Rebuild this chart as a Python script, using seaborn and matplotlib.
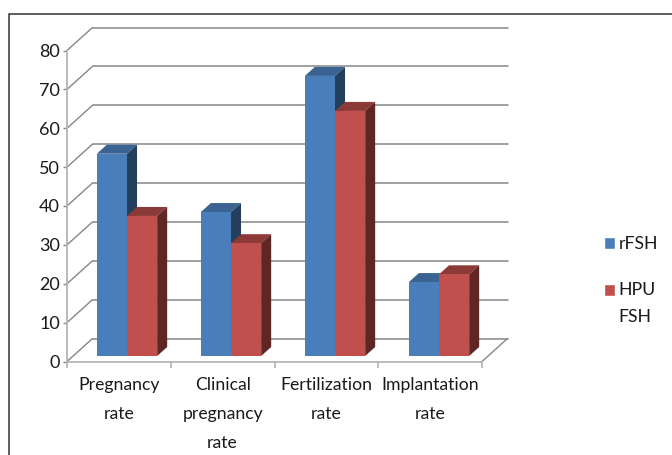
import pandas as pd
import matplotlib.pyplot as plt
import seaborn as sns
from matplotlib.lines import Line2D
from matplotlib.patches import Polygon

# values
categories = ["Pregnancy\nrate", "Clinical\npregnancy\nrate", "Fertilization\nrate", "Implantation\nrate"]
rfsh = [52, 37, 72, 19]
hpu_fsh = [36, 29, 63, 21]
series_names = ["rFSH", "HPU\nFSH"]
y_ticks = [0, 10, 20, 30, 40, 50, 60, 70, 80]

W, H = 672, 455
BLUE, BLUE_TOP, BLUE_SIDE = "#4A7EBB", "#3A6391", "#243F5E"
RED, RED_TOP, RED_SIDE = "#C0504D", "#8C3A38", "#5F2623"
GRID = "#868686"
AXIS = "#b4b4b4"
FONT = ["Lato", "DejaVu Sans"]

sns.set_theme(style="white")
plt.rcParams["font.family"] = FONT

df = pd.DataFrame({
    "category": categories * 2,
    "series": [series_names[0]] * 4 + [series_names[1]] * 4,
    "value": rfsh + hpu_fsh,
})


def px_axes(fig, left, right, bottom, top):
    # axes rectangle given in pixels from the top left corner
    return fig.add_axes([left / W, 1 - bottom / H, (right - left) / W, (bottom - top) / H])


fig = plt.figure(figsize=(W / 100, H / 100), dpi=100)

# picture frame, runs off the right and bottom edge
fig.add_artist(Line2D([8.5 / W, 8.5 / W, 1], [0, 1 - 13.5 / H, 1 - 13.5 / H], color="#333333", lw=1.1))

# front plane of the 3d box: ticks and labels
ax = px_axes(fig, 67, 482, 361.5, 50.5)
ax.set_xlim(-0.5, 3.5)
ax.set_ylim(0, 80)
ax.patch.set_alpha(0)
for s in ["top", "right"]:
    ax.spines[s].set_visible(False)
for s in ["left", "bottom"]:
    ax.spines[s].set_color(AXIS)
    ax.spines[s].set_linewidth(1.3)

# depth of the box and of the bars, pixels turned into data units
px_x = 4 / 415
px_y = 80 / 311
box_dx, box_dy = 25.5 * px_x, 23 * px_y
bar_dx, bar_dy = 10 * px_x, 9 * px_y

for v in y_ticks:
    ax.plot([-0.5, -0.5 + box_dx], [v, v + box_dy], color=GRID, lw=1, clip_on=False, zorder=1)
    ax.plot([-0.5 + box_dx, 3.5 + box_dx], [v + box_dy, v + box_dy], color=GRID, lw=1.1, clip_on=False, zorder=1)
ax.plot([3.5, 3.5 + box_dx], [0, box_dy], color=GRID, lw=1, clip_on=False, zorder=1)

ax.set_xticks(range(4))
ax.set_xticklabels(categories, fontsize=12.7, linespacing=1.98, color="#1a1a1a")
ax.set_xticks([-0.5, 0.5, 1.5, 2.5, 3.5], minor=True)
ax.tick_params(axis="x", which="major", length=0, pad=11.5)
ax.tick_params(axis="x", which="minor", length=4, color=AXIS, width=1.2, bottom=True)
ax.set_yticks(y_ticks)
ax.tick_params(axis="y", labelsize=13, length=3, color=GRID, width=1, left=True, pad=2, labelcolor="#1a1a1a")
ax.set_xlabel("")
ax.set_ylabel("")

# plane the bars stand on, set a little into the box
bar_ax = px_axes(fig, 75, 491, 356, 44.8)
bar_ax.patch.set_alpha(0)
sns.barplot(data=df, x="category", y="value", hue="series", order=categories,
            hue_order=series_names, palette=[BLUE, RED], width=0.58, gap=0,
            saturation=1, dodge=True, ax=bar_ax, errorbar=None)
bar_ax.set_xlim(-0.5, 3.5)
bar_ax.set_ylim(0, 80)

styles = [(BLUE_TOP, BLUE_SIDE, 2), (RED_TOP, RED_SIDE, 4)]
for container, (top_col, side_col, z) in zip(bar_ax.containers, styles):
    for bar in container:
        x0, x1 = bar.get_x(), bar.get_x() + bar.get_width()
        y1 = bar.get_height()
        bar.set_zorder(z + 1)
        bar.set_linewidth(0)
        bar_ax.add_patch(Polygon([(x0, y1), (x1, y1), (x1 + bar_dx, y1 + bar_dy), (x0 + bar_dx, y1 + bar_dy)],
                                 facecolor=top_col, edgecolor="none", zorder=z, clip_on=False))
        bar_ax.add_patch(Polygon([(x1, 0), (x1 + bar_dx, bar_dy), (x1 + bar_dx, y1 + bar_dy), (x1, y1)],
                                 facecolor=side_col, edgecolor="none", zorder=z, clip_on=False))

handles, labels = bar_ax.get_legend_handles_labels()
leg = bar_ax.legend(handles, labels, loc="upper left", bbox_to_anchor=(604 / W, 1 - 236 / H),
                    bbox_transform=fig.transFigure, frameon=False, fontsize=12.7, handlelength=0.62,
                    handleheight=0.72, handletextpad=0.2, labelspacing=1.7, borderpad=0, borderaxespad=0,
                    labelcolor="#1a1a1a")
for text in leg.get_texts():
    text.set_linespacing(1.85)
# second swatch sits beside the first line of its label
swatch = leg.legend_handles[1]
swatch.set_y(swatch.get_y() + 10)
bar_ax.set_axis_off()

fig.savefig("out.png", dpi=100)
